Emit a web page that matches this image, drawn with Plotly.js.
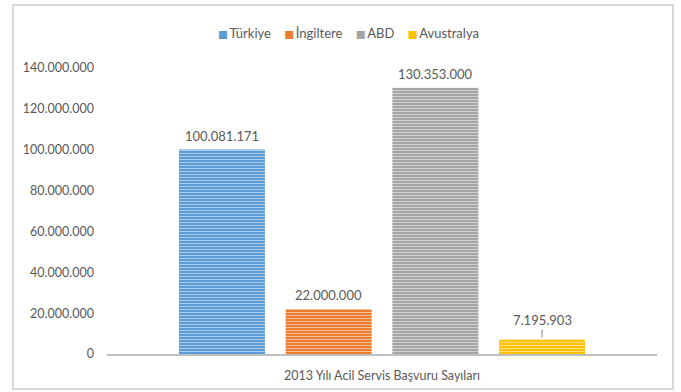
<!DOCTYPE html>
<html><head><meta charset="utf-8">
<script src="https://cdn.plot.ly/plotly-3.0.1.min.js"></script>
<style>
html,body{margin:0;padding:0;background:#fff;}
#wrap{position:relative;width:681px;height:392px;}
#chart{position:absolute;left:0;top:0;width:681px;height:392px;}
#frame{position:absolute;left:12px;top:4px;width:658px;height:382px;border:2px solid #d9d9d9;pointer-events:none;}
</style></head>
<body>
<div id="wrap"><div id="chart"></div><div id="frame"></div></div>
<script>
const category = ["2013 Yılı Acil Servis Başvuru Sayıları"];
const seriesNames = ["Türkiye", "İngiltere", "ABD", "Avustralya"];
const seriesValues = [100081171, 22000000, 130353000, 7195903];
const seriesColors = ["#5B9BD5", "#ED7D31", "#A5A5A5", "#FFC000"];
const yTickVals = [0, 20000000, 40000000, 60000000, 80000000, 100000000, 120000000, 140000000];

const FONT = 'Lato, sans-serif';
const bargap = 0.224, bargroupgap = 0.194;
const margin = {l:107, r:24, t:68, b:38};
const plotW = 681 - margin.l - margin.r;
const plotH = 392 - margin.t - margin.b;

const traces = seriesNames.map((n, i) => ({
  type: 'bar', name: n, x: category, y: [seriesValues[i]],
  marker: {color: seriesColors[i], line: {width: 0},
    pattern: {shape: '-', fillmode: 'replace', bgcolor: seriesColors[i], fgcolor: '#ffffff', fgopacity: 0.5, size: 3, solidity: 0.35}},
  showlegend: false,
  hoverinfo: 'skip'
}));

const fmt = v => String(v).replace(/\B(?=(\d{3})+(?!\d))/g, '.');
const slot = plotW * (1 - bargap) / seriesNames.length;
const labelFont = {family: FONT, size: 13, color: '#595959'};

const annotations = seriesValues.map((v, i) => {
  const xs = (i - (seriesNames.length - 1) / 2) * slot;
  if (i === 3) {
    return {x: category[0], y: v, xref: 'x', yref: 'y', xshift: xs, text: fmt(v),
      showarrow: true, arrowhead: 0, arrowwidth: 1, arrowcolor: '#7f7f7f',
      ax: 0, ay: -19, standoff: 2, font: labelFont};
  }
  return {x: category[0], y: v, xref: 'x', yref: 'y', xshift: xs, text: fmt(v),
    showarrow: false, yanchor: 'bottom', yshift: 4, font: labelFont};
});

// legend row drawn as text: coloured square + series name
const legendText = seriesNames.map((n, i) =>
  `<span style="color:${seriesColors[i]};font-size:10.5px;font-family:DejaVu Sans">■</span>\u2009${n}`).join('\u00a0\u00a0\u00a0\u00a0');
annotations.push({
  xref: 'paper', yref: 'paper', x: (348 - margin.l) / plotW, y: 1 + 35 / plotH,
  xanchor: 'center', yanchor: 'middle', showarrow: false, text: legendText,
  font: {family: FONT, size: 13, color: '#595959'}
});

const layout = {
  width: 681, height: 392, margin: margin,
  paper_bgcolor: '#fff', plot_bgcolor: '#fff',
  separators: ',.',
  barmode: 'group', bargap: bargap, bargroupgap: bargroupgap,
  font: {family: FONT, size: 12, color: '#595959'},
  showlegend: false,
  xaxis: {type: 'category', showline: true, linecolor: '#bfbfbf', linewidth: 2,
    ticks: '', showgrid: false, ticklabelstandoff: 9, automargin: false,
    tickfont: {family: FONT, size: 12.5, color: '#595959'}, fixedrange: true},
  yaxis: {range: [0, 140000000], tickvals: yTickVals, tickformat: ',d', showgrid: false,
    zeroline: false, showline: false, ticks: '', ticklabelstandoff: 12, automargin: false,
    tickfont: {family: FONT, size: 12.5, color: '#595959'}, fixedrange: true},
  annotations: annotations
};

Plotly.newPlot('chart', traces, layout, {displayModeBar: false, staticPlot: true});
</script>
</body></html>
